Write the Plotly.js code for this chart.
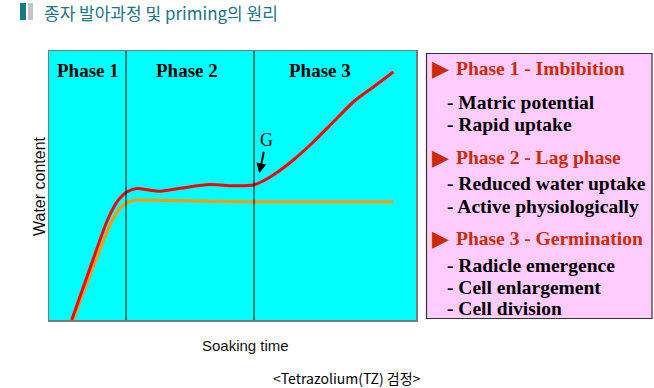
<!DOCTYPE html>
<html>
<head>
<meta charset="utf-8">
<script src="https://cdn.plot.ly/plotly-3.0.1.min.js"></script>
<style>html,body{margin:0;padding:0;background:#fff;}#chart{width:654px;height:388px;}</style>
</head>
<body>
<div id="chart"></div>
<script>
// ---- data (soaking time vs water content, arbitrary units) ----
var redTime  = [22.7, 40, 57.7, 66, 71, 77.7, 87.7, 100, 110, 131, 161, 184, 204.3, 214, 224.3, 244.3, 264.3, 284.3, 304.3, 324.3, 344.3];
var redWater = [0, 49, 98, 115, 122, 128, 131.5, 130, 128.8, 131.7, 135.5, 134.3, 135, 139, 145, 160, 178, 198, 218, 233, 248];
var orangeTime  = [24, 43, 64.3, 74.3, 82, 87.7, 107.7, 204.3, 344.3];
var orangeWater = [0, 50, 101.7, 115, 119, 120, 119.7, 118.3, 118.3];
var phaseBounds = [77, 205];
var phaseLabels = ['Phase 1', 'Phase 2', 'Phase 3'];
var phaseLabelX = [39, 137.7, 271];
var gPoint = [210.3, 146.7];

var headings = ['Phase 1 - Imbibition', 'Phase 2 - Lag phase', 'Phase 3 - Germination'];
var details = [
  ['- Matric potential', '- Rapid uptake'],
  ['- Reduced water uptake', '- Active physiologically'],
  ['- Radicle emergence', '- Cell enlargement', '- Cell division']
];

var titleText = '종자 발아과정 및 priming의 원리';
var captionText = '&lt;Tetrazolium(TZ) 검정&gt;';

// ---- layout helpers ----
var W = 654, H = 388, L = 49, R = 416, T = 51, B = 320;
function px(x) { return (x - L) / (R - L); }
function py(y) { return (B - y) / (B - T); }

var traces = [
  {x: orangeTime, y: orangeWater, type: 'scatter', mode: 'lines',
   line: {color: '#ff9900', width: 3, shape: 'spline', smoothing: 0.8}, hoverinfo: 'skip'},
  {x: redTime, y: redWater, type: 'scatter', mode: 'lines',
   line: {color: '#ff0000', width: 3, shape: 'spline', smoothing: 0.8}, hoverinfo: 'skip'}
];

var shapes = [];
phaseBounds.forEach(function (b) {
  shapes.push({type: 'line', xref: 'x', yref: 'paper', x0: b, x1: b, y0: 0, y1: 1,
               line: {color: '#000', width: 1}});
});
// right info box
shapes.push({type: 'rect', xref: 'paper', yref: 'paper', x0: px(426.5), x1: px(652), y0: py(318.5), y1: py(53.5),
             fillcolor: '#ffccff', line: {color: '#333', width: 1.2}, layer: 'below'});
// title bars
shapes.push({type: 'rect', xref: 'paper', yref: 'paper', x0: px(20), x1: px(26), y0: py(20), y1: py(3),
             fillcolor: '#177a87', line: {width: 0}});
shapes.push({type: 'rect', xref: 'paper', yref: 'paper', x0: px(28), x1: px(33), y0: py(20), y1: py(3),
             fillcolor: '#c4c4c4', line: {width: 0}});

var annotations = [];
phaseLabels.forEach(function (t, i) {
  annotations.push({x: phaseLabelX[i], y: 250, xref: 'x', yref: 'y', text: t, showarrow: false,
    font: {family: 'Liberation Serif', size: 19, color: '#000', weight: 'bold'}});
});
annotations.push({x: gPoint[0], y: gPoint[1], xref: 'x', yref: 'y', text: 'G', showarrow: true,
  ax: 7, ay: -33, arrowhead: 2, arrowsize: 1, arrowwidth: 2, arrowcolor: '#000',
  font: {family: 'Liberation Serif', size: 18, color: '#000'}});

// info box text
var rowsY = [[102, 124], [183, 206], [265, 287, 308]];
var headY = [68, 157, 238];
headings.forEach(function (h, i) {
  annotations.push({x: px(430), y: py(headY[i]), xref: 'paper', yref: 'paper', xanchor: 'left', yanchor: 'middle',
    text: '▶', showarrow: false, font: {family: 'DejaVu Sans', size: 22, color: '#cc2a00'}});
  annotations.push({x: px(454), y: py(headY[i]), xref: 'paper', yref: 'paper', xanchor: 'left', yanchor: 'middle',
    text: h, showarrow: false, font: {family: 'Liberation Serif', size: 19.5, color: '#cc2a00', weight: 'bold'}});
  details[i].forEach(function (d, j) {
    annotations.push({x: px(445), y: py(rowsY[i][j]), xref: 'paper', yref: 'paper', xanchor: 'left', yanchor: 'middle',
      text: d, showarrow: false, font: {family: 'Liberation Serif', size: 19.5, color: '#000', weight: 'bold'}});
  });
});

// title, axis labels, caption
annotations.push({x: px(42), y: py(12), xref: 'paper', yref: 'paper', xanchor: 'left', yanchor: 'middle',
  text: titleText, showarrow: false, font: {family: 'Noto Sans CJK KR', size: 17, color: '#1a7585'}});
annotations.push({x: px(39), y: py(186), xref: 'paper', yref: 'paper', xanchor: 'center', yanchor: 'middle',
  text: 'Water content', textangle: -90, showarrow: false, font: {family: 'Liberation Sans', size: 16, color: '#111'}});
annotations.push({x: px(245), y: py(345), xref: 'paper', yref: 'paper', xanchor: 'center', yanchor: 'middle',
  text: 'Soaking time', showarrow: false, font: {family: 'Liberation Sans', size: 15, color: '#111'}});
annotations.push({x: px(347), y: py(378), xref: 'paper', yref: 'paper', xanchor: 'center', yanchor: 'middle',
  text: captionText, showarrow: false, font: {family: 'Noto Sans CJK KR', size: 14, color: '#000'}});

var layout = {
  width: W, height: H,
  margin: {l: L, r: W - R, t: T, b: H - B, pad: 0},
  paper_bgcolor: '#ffffff', plot_bgcolor: '#00ffff',
  showlegend: false,
  xaxis: {range: [0, R - L], showgrid: false, zeroline: false, showticklabels: false, ticks: '',
          showline: true, mirror: true, linecolor: '#7a7a7a', linewidth: 1.5, fixedrange: true},
  yaxis: {range: [0, B - T], showgrid: false, zeroline: false, showticklabels: false, ticks: '',
          showline: true, mirror: true, linecolor: '#7a7a7a', linewidth: 1.5, fixedrange: true},
  shapes: shapes,
  annotations: annotations
};

Plotly.newPlot('chart', traces, layout, {staticPlot: true, displayModeBar: false});
</script>
</body>
</html>
